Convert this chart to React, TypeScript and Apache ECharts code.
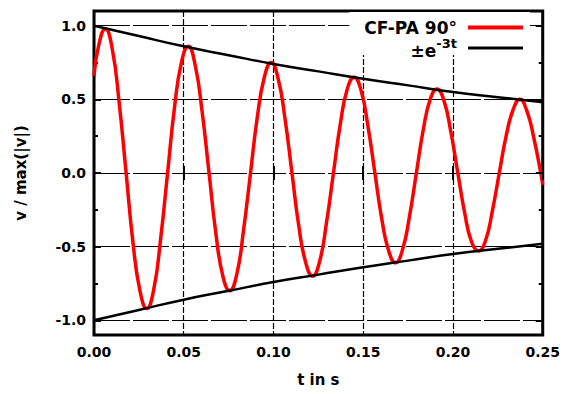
import React, { useEffect, useRef } from 'react';
import * as echarts from 'echarts';

// envelope ±e^(-3t)
const envT = [0, 0.025, 0.05, 0.075, 0.1, 0.125, 0.15, 0.175, 0.2, 0.225, 0.25];
const envUpper = [1.0, 0.93, 0.86, 0.8, 0.74, 0.69, 0.64, 0.595, 0.55, 0.515, 0.48];
const envLower = [-1.0, -0.93, -0.86, -0.8, -0.74, -0.69, -0.64, -0.595, -0.55, -0.515, -0.48];

// CF-PA 90° signal
const sigT = [
  0, 0.0025, 0.0063, 0.0102, 0.014, 0.0179, 0.0217, 0.0256, 0.0294, 0.0333, 0.0371, 0.041,
  0.0448, 0.0487, 0.0525, 0.0564, 0.0602, 0.0641, 0.0679, 0.0718, 0.0756, 0.0795, 0.0833,
  0.0872, 0.091, 0.0949, 0.0987, 0.1026, 0.1064, 0.1103, 0.1141, 0.118, 0.1218, 0.1257,
  0.1295, 0.1334, 0.1372, 0.1411, 0.1449, 0.1488, 0.1526, 0.1565, 0.1603, 0.1642, 0.168,
  0.1719, 0.1757, 0.1796, 0.1834, 0.1873, 0.1911, 0.195, 0.1988, 0.2027, 0.2065, 0.2104,
  0.2142, 0.2181, 0.2219, 0.2258, 0.2296, 0.2335, 0.2373, 0.2412, 0.245, 0.2489, 0.25,
];
const sigV = [
  0.66, 0.86, 0.98, 0.84, 0.48, 0.0, -0.47, -0.8, -0.92, -0.79, -0.45, 0.0,
  0.44, 0.75, 0.86, 0.73, 0.42, 0.0, -0.41, -0.7, -0.8, -0.69, -0.39,
  0.0, 0.38, 0.65, 0.75, 0.64, 0.37, 0.0, -0.36, -0.61, -0.7, -0.6,
  -0.34, 0.0, 0.33, 0.57, 0.65, 0.56, 0.32, 0.0, -0.31, -0.53, -0.61,
  -0.52, -0.3, 0.0, 0.29, 0.5, 0.57, 0.49, 0.28, 0.0, -0.27, -0.47,
  -0.53, -0.46, -0.26, 0.0, 0.25, 0.43, 0.5, 0.42, 0.24, 0.0, -0.08,
];

const yMajor = [-1, -0.5, 0, 0.5, 1];
const yMinor = [-0.75, -0.25, 0.25, 0.75];

const SIG_NAME = 'CF-PA 90°';
const ENV_NAME = 'env';

const FONT = 'DejaVu Sans';

export default function App() {
  const ref = useRef<HTMLDivElement>(null);
  useEffect(() => {
    if (!ref.current) return;
    const chart = echarts.init(ref.current, null, { renderer: 'svg' });
    const tickLine = { color: '#000', width: 2 };
    const option: any = {
      animation: false,
      backgroundColor: '#fff',
      textStyle: { fontFamily: FONT, fontWeight: 'bold', color: '#000' },
      grid: {
        left: 94, right: 18, top: 11, bottom: 59,
        show: true, borderColor: '#000', borderWidth: 3, backgroundColor: 'transparent',
      },
      legend: [
        {
          data: [SIG_NAME], orient: 'vertical', align: 'right', right: 33, top: 12,
          itemWidth: 55, itemHeight: 4, icon: 'rect', selectedMode: false,
          backgroundColor: '#fff', padding: [7, 7, 19, 15],
          textStyle: { fontFamily: FONT, fontWeight: 'bold', fontSize: 17, color: '#000', padding: [0, 6, 0, 0] },
        },
        {
          data: [ENV_NAME], orient: 'vertical', align: 'right', right: 40, top: 37,
          itemWidth: 55, itemHeight: 3, icon: 'rect', selectedMode: false, padding: 0,
          formatter: () => '{a|±e}{b|-3t}',
          textStyle: {
            color: '#000', padding: [0, 6, 0, 0],
            rich: {
              a: { fontFamily: FONT, fontWeight: 'bold', fontSize: 17, color: '#000', verticalAlign: 'bottom' },
              b: { fontFamily: FONT, fontWeight: 'bold', fontSize: 13, color: '#000', verticalAlign: 'bottom', padding: [0, 0, 9, 0] },
            },
          },
        },
      ],
      xAxis: [
        {
          type: 'value', min: 0, max: 0.25, interval: 0.05, position: 'bottom',
          name: 't in s', nameLocation: 'middle', nameGap: 37,
          nameTextStyle: { fontFamily: FONT, fontWeight: 'bold', fontSize: 15, color: '#000' },
          axisLine: { show: false },
          axisTick: { show: true, inside: true, length: 7, lineStyle: tickLine },
          axisLabel: {
            margin: 10, fontFamily: FONT, fontWeight: 'bold', fontSize: 14, color: '#000',
            formatter: (v: number) => v.toFixed(2),
          },
          splitLine: { show: true, lineStyle: { color: '#000', width: 1.2, type: [6, 2] } },
        },
        {
          type: 'value', min: 0, max: 0.25, interval: 0.05, position: 'top', z: 6,
          axisLine: { show: false },
          axisTick: { show: true, inside: true, length: 7, lineStyle: tickLine },
          axisLabel: { show: false },
          splitLine: { show: false },
        },
      ],
      yAxis: [
        {
          type: 'value', min: -1.1, max: 1.1, position: 'left',
          name: 'v / max(|v|)', nameLocation: 'middle', nameGap: 66,
          nameTextStyle: { fontFamily: FONT, fontWeight: 'bold', fontSize: 15, color: '#000' },
          axisLine: { show: false },
          axisTick: { show: true, inside: true, length: 7, lineStyle: tickLine, customValues: yMajor },
          axisLabel: {
            margin: 8, fontFamily: FONT, fontWeight: 'bold', fontSize: 14, color: '#000',
            customValues: yMajor,
            formatter: (v: number) => (Math.abs(v) > 1.05 ? '' : v.toFixed(1)),
          },
          splitLine: { show: true, lineStyle: { color: '#000', width: 1, type: [36, 3] } },
        },
        {
          type: 'value', min: -1.1, max: 1.1, position: 'left',
          axisLine: { show: false },
          axisTick: { show: true, inside: true, length: 4, lineStyle: tickLine, customValues: yMinor },
          axisLabel: { show: false },
          splitLine: { show: false },
        },
        {
          type: 'value', min: -1.1, max: 1.1, position: 'right', z: 6,
          axisLine: { show: false },
          axisTick: { show: true, inside: true, length: 7, lineStyle: tickLine, customValues: yMajor },
          axisLabel: { show: false },
          splitLine: { show: false },
        },
        {
          type: 'value', min: -1.1, max: 1.1, position: 'right', z: 6,
          axisLine: { show: false },
          axisTick: { show: true, inside: true, length: 4, lineStyle: tickLine, customValues: yMinor },
          axisLabel: { show: false },
          splitLine: { show: false },
        },
      ],
      series: [
        {
          name: ENV_NAME, type: 'line', xAxisIndex: 0, yAxisIndex: 0, smooth: true, showSymbol: false,
          data: envT.map((t, i) => [t, envUpper[i]]),
          itemStyle: { color: '#000' }, lineStyle: { color: '#000', width: 2.5 }, z: 3,
        },
        {
          name: ENV_NAME, type: 'line', xAxisIndex: 0, yAxisIndex: 0, smooth: true, showSymbol: false,
          data: envT.map((t, i) => [t, envLower[i]]),
          itemStyle: { color: '#000' }, lineStyle: { color: '#000', width: 2.5 }, z: 3,
        },
        {
          name: SIG_NAME, type: 'line', xAxisIndex: 0, yAxisIndex: 0, smooth: true, showSymbol: false,
          data: sigT.map((t, i) => [t, sigV[i]]),
          itemStyle: { color: '#f00' }, lineStyle: { color: '#f00', width: 3.5 }, z: 2,
        },
      ],
    };
    chart.setOption(option);
    return () => chart.dispose();
  }, []);
  return (
    <div
      ref={ref}
      style={{ position: 'absolute', left: 0, top: 0, width: 563, height: 394 }}
    />
  );
}
